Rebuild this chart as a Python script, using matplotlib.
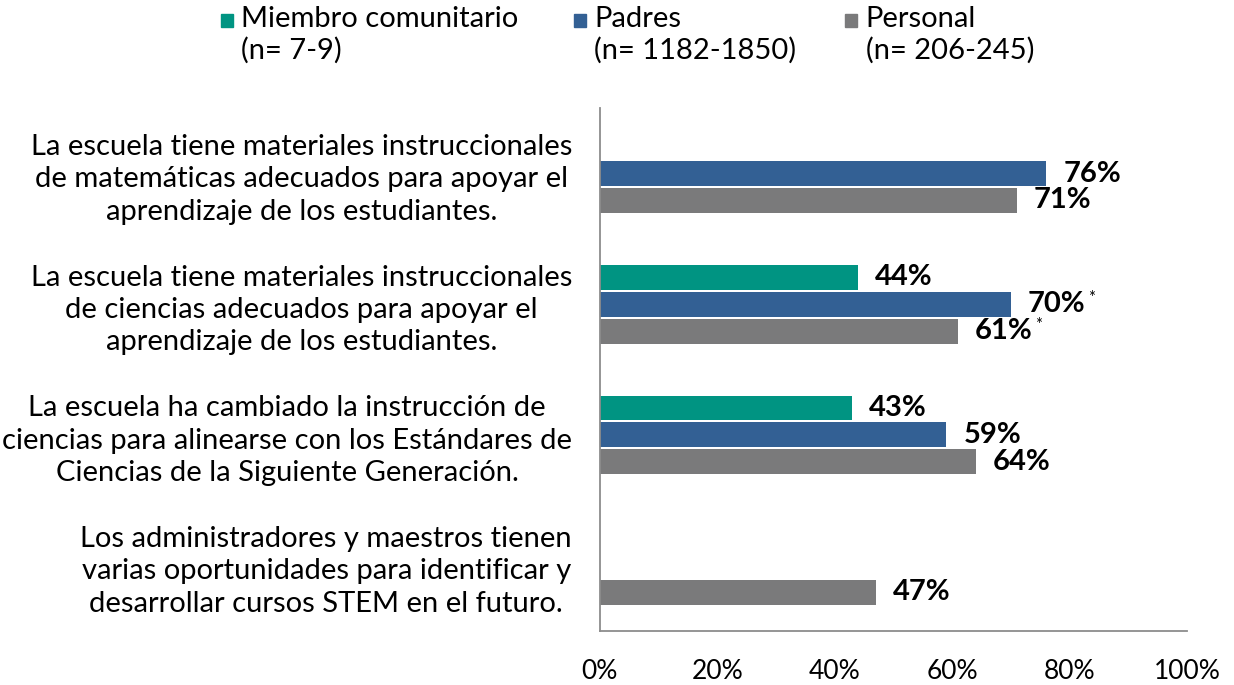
import numpy as np
import matplotlib
matplotlib.use('Agg')
import matplotlib.pyplot as plt
from matplotlib.patches import Rectangle

plt.rcParams['font.family'] = ['Lato', 'DejaVu Sans']

# datos
categorias = [
    "La escuela tiene materiales instruccionales\nde matemáticas adecuados para apoyar el\naprendizaje de los estudiantes.",
    "La escuela tiene materiales instruccionales\nde ciencias adecuados para apoyar el\naprendizaje de los estudiantes.",
    "La escuela ha cambiado la instrucción de\nciencias para alinearse con los Estándares de\nCiencias de la Siguiente Generación.",
    "Los administradores y maestros tienen\nvarias oportunidades para identificar y\ndesarrollar cursos STEM en el futuro.",
]
miembro = [np.nan, 44, 43, np.nan]
padres = [76, 70, 59, np.nan]
personal = [71, 61, 64, 47]
asterisco_padres = [False, True, False, False]
asterisco_personal = [False, True, False, False]

series = ["Miembro comunitario\n(n= 7-9)", "Padres\n(n= 1182-1850)", "Personal\n(n= 206-245)"]
colores = ["#009482", "#336094", "#7A7A7B"]
xticks = [0, 20, 40, 60, 80, 100]

fig = plt.figure(figsize=(12.34, 6.85), dpi=100)
ax = fig.add_axes([0.486, 0.079, 0.476, 0.763])

y = np.arange(len(categorias))
alto = 0.19
paso = 0.206
valores = [miembro, padres, personal]
asteriscos = [[False] * 4, asterisco_padres, asterisco_personal]

for i, (vals, col) in enumerate(zip(valores, colores)):
    pos = y + (i - 1) * paso
    ax.barh(pos, vals, height=alto, color=col)
    for p, v, a in zip(pos, vals, asteriscos[i]):
        if np.isnan(v):
            continue
        ax.text(v + 2.9, p, f"{v:.0f}%", va='center', ha='left',
                fontsize=21, fontweight='bold', color='black')
        if a:
            ax.text(v + 13.1, p - 0.045, "*", va='center', ha='left',
                    fontsize=12, color='black')

ax.set_ylim(len(categorias) - 0.5, -0.5)
ax.set_xlim(0, 100)
ax.set_yticks(y)
ax.set_yticklabels(categorias, fontsize=21, multialignment='center', linespacing=1.3)
ax.set_xticks(xticks)
ax.set_xticklabels([f"{t}%" for t in xticks], fontsize=19)
ax.tick_params(axis='both', length=0)
ax.tick_params(axis='y', pad=20)
ax.tick_params(axis='x', pad=20)

for s in ['top', 'right']:
    ax.spines[s].set_visible(False)
for s in ['left', 'bottom']:
    ax.spines[s].set_color('#8C8C8C')
    ax.spines[s].set_linewidth(1.3)

# leyenda
leg_x = [0.179, 0.465, 0.685]
for lx, lab, col in zip(leg_x, series, colores):
    fig.patches.append(Rectangle((lx, 0.961), 0.0097, 0.019, transform=fig.transFigure,
                                 color=col))
    fig.text(lx + 0.0165, 0.991, lab, ha='left', va='top', fontsize=21,
             linespacing=1.2)

fig.savefig("out.png", dpi=100)
